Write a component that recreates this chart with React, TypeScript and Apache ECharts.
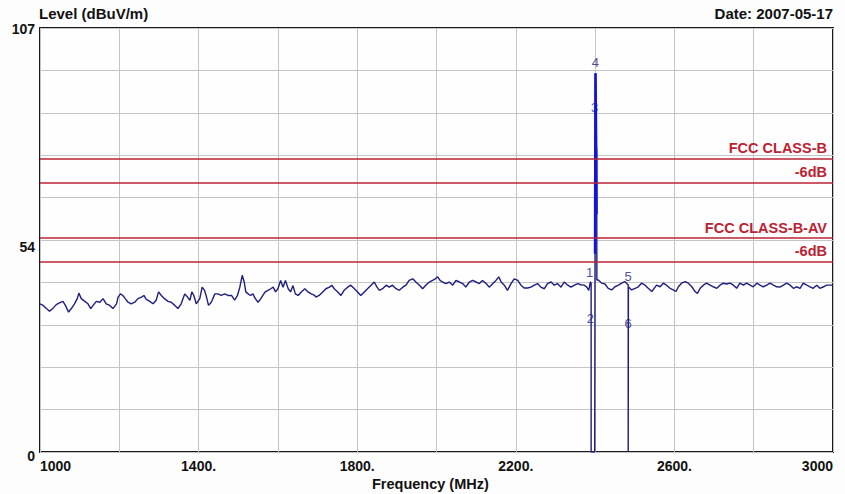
import React, { useEffect, useRef } from "react";
import * as echarts from "echarts";

// Spectrum trace (frequency MHz, level dBuV/m)
const lowBand: number[][] = [
  [1000, 37.4], [1008, 37.0], [1016, 36.2], [1024, 35.5], [1033, 36.3], [1041, 37.2], [1050, 37.7], [1058, 38.0],
  [1064, 37.0], [1072, 35.3], [1079, 36.2], [1087, 37.4], [1094, 38.7], [1098, 40.1], [1104, 38.7], [1113, 38.0],
  [1121, 37.4], [1128, 36.2], [1134, 37.0], [1142, 38.0], [1151, 37.8], [1159, 38.7], [1167, 37.4], [1176, 37.0],
  [1184, 36.2], [1193, 37.4], [1197, 39.1], [1203, 39.9], [1209, 39.5], [1215, 38.7], [1222, 37.8], [1230, 37.4],
  [1239, 37.8], [1247, 38.7], [1256, 39.1], [1262, 39.5], [1268, 38.5], [1277, 38.0], [1285, 37.4], [1293, 38.3],
  [1299, 40.4], [1306, 39.5], [1314, 38.7], [1323, 38.0], [1331, 37.8], [1340, 37.0], [1348, 36.2], [1356, 37.4],
  [1365, 39.9], [1372, 39.1], [1378, 38.3], [1383, 40.4], [1388, 39.5], [1394, 37.4], [1403, 38.7], [1409, 41.6],
  [1415, 40.8], [1420, 39.1], [1425, 37.0], [1432, 37.8], [1441, 39.9], [1449, 39.9], [1457, 39.5], [1466, 39.9],
  [1474, 39.5], [1483, 39.5], [1491, 38.3], [1498, 39.5], [1504, 41.6], [1510, 44.6], [1515, 42.9], [1519, 40.4],
  [1525, 39.9], [1531, 39.5], [1537, 39.9], [1543, 38.7], [1550, 37.8], [1557, 38.7], [1562, 39.5], [1568, 40.4],
  [1575, 40.8], [1582, 41.2], [1588, 41.6], [1594, 40.4], [1600, 41.2], [1607, 43.3], [1613, 41.6], [1619, 43.3],
  [1626, 41.2], [1632, 40.4], [1638, 42.0], [1644, 39.9], [1651, 39.5], [1659, 40.4], [1668, 41.2], [1676, 40.4],
  [1684, 39.9], [1693, 39.5], [1696, 39.1], [1704, 39.5], [1713, 40.4], [1721, 41.2], [1730, 41.6], [1736, 42.1],
  [1742, 41.2], [1751, 40.4], [1759, 39.5], [1767, 40.8], [1776, 41.6], [1784, 42.1], [1793, 41.2], [1801, 40.4],
  [1809, 39.5], [1818, 40.4], [1826, 41.2], [1835, 42.1], [1843, 42.9], [1850, 41.6], [1856, 40.8], [1864, 41.2],
  [1873, 42.1], [1881, 41.6], [1889, 42.1], [1898, 41.2], [1906, 40.8], [1915, 41.6], [1923, 42.1], [1931, 43.3],
  [1940, 43.7], [1948, 42.9], [1957, 42.1], [1965, 41.2], [1973, 42.1], [1982, 42.9], [1990, 43.3], [1997, 43.7],
  [2003, 44.2], [2009, 43.3], [2015, 42.9], [2024, 42.5], [2032, 42.9], [2041, 42.1], [2049, 43.3], [2058, 42.9],
  [2066, 42.5], [2074, 41.6], [2083, 42.9], [2091, 43.3], [2100, 42.9], [2108, 42.5], [2116, 43.3], [2125, 42.5],
  [2133, 41.6], [2142, 42.5], [2150, 43.3], [2157, 44.2], [2163, 42.9], [2171, 42.1], [2179, 40.8], [2188, 42.5],
  [2196, 43.7], [2205, 43.3], [2213, 42.1], [2221, 41.4], [2230, 41.4], [2238, 41.6], [2247, 42.1], [2255, 42.5],
  [2263, 41.6], [2272, 41.2], [2280, 42.5], [2289, 42.9], [2297, 42.1], [2305, 42.5], [2314, 41.6], [2322, 42.9],
  [2331, 42.1], [2339, 41.6], [2348, 42.1], [2356, 42.5], [2364, 42.2], [2373, 42.1], [2379, 41.6], [2384, 40.8],
  [2388, 42.9],
];
const carrier: number[][] = [
  [2390, 42.6], [2390, 0], [2399, 0], [2400, 60], [2401, 95.6], [2402.5, 78], [2404, 76], [2404.5, 43.4],
];
const highBand: number[][] = [
  [2408, 43.4], [2417, 42.6], [2425, 42.4], [2433, 41.3], [2442, 40.9], [2450, 41.7], [2459, 42.1], [2467, 42.6],
  [2475, 43.0], [2481, 42.4], [2483.5, 42.2], [2483.5, 0], [2484, 0], [2484, 41.7], [2492, 40.9], [2501, 41.3],
  [2509, 41.7], [2517, 42.6], [2526, 42.1], [2534, 41.3], [2543, 40.5], [2549, 41.3], [2555, 42.1], [2564, 41.7],
  [2572, 42.6], [2580, 42.1], [2589, 41.3], [2597, 40.9], [2604, 40.5], [2610, 41.7], [2618, 42.6], [2627, 43.0],
  [2635, 42.6], [2644, 41.7], [2652, 40.5], [2658, 40.0], [2665, 41.3], [2673, 42.1], [2681, 42.6], [2690, 42.1],
  [2698, 41.7], [2707, 41.3], [2715, 42.1], [2723, 42.6], [2732, 42.4], [2740, 42.6], [2749, 42.1], [2757, 41.3],
  [2765, 42.6], [2774, 42.1], [2782, 42.6], [2791, 42.1], [2799, 41.7], [2808, 42.6], [2816, 42.1], [2824, 41.7],
  [2833, 42.1], [2841, 42.6], [2850, 42.1], [2858, 41.7], [2866, 41.6], [2875, 42.1], [2883, 42.6], [2892, 42.1],
  [2900, 41.3], [2908, 41.7], [2917, 41.3], [2925, 42.6], [2934, 42.1], [2942, 41.7], [2950, 41.3], [2959, 42.1],
  [2967, 41.3], [2976, 41.7], [2984, 42.1], [2992, 42.1], [3000, 42.1],
];
const peakHighlight: number[][] = [[2400, 50], [2401, 95.6], [2402.5, 78], [2403.5, 60]];

// Markers
const markerNames = ["1", "2", "3", "4", "5", "6"];
const markerFreq = [2386, 2388, 2398.5, 2400.5, 2483.5, 2483.5];
const markerLevel = [43.1, 31.5, 84.8, 96.1, 42.1, 30.3];

// Limit lines
const limitValues = [74, 68, 54, 48];
const limitLabels = ["FCC CLASS-B", "-6dB", "FCC CLASS-B-AV", "-6dB"];

// Axis labels
const xLabelValues = [1000, 1400, 1800, 2200, 2600, 3000];
const yLabelValues = [0, 53.5, 107];
const yLabelTexts = ["{z|0}", "{m|54}", "{t|107}"];

const FONT = "'Liberation Sans', Arial, sans-serif";
const RED = "#bb2233";
const NAVY = "#1e1e7e";

export default function App() {
  const ref = useRef<HTMLDivElement>(null);
  useEffect(() => {
    if (!ref.current) return;
    const chart = echarts.init(ref.current, undefined, { renderer: "svg" });
    const trace = [...lowBand, ...carrier, ...highBand];
    const yRich = { fontFamily: FONT, fontWeight: "bold", fontSize: 14, color: "#111" };
    chart.setOption({
      animation: false,
      backgroundColor: "#fcfdfc",
      title: [
        { text: "Level (dBuV/m)", left: 34, top: 1, textStyle: { fontFamily: FONT, fontWeight: "bold", fontSize: 15, color: "#111" } },
        { text: "Date: 2007-05-17", right: 7, top: 1, textStyle: { fontFamily: FONT, fontWeight: "bold", fontSize: 15, color: "#111" } },
        { text: "Frequency (MHz)", left: 367, top: 471, textStyle: { fontFamily: FONT, fontWeight: "bold", fontSize: 14.5, color: "#111" } },
      ],
      grid: { left: 40, right: 12, top: 28, bottom: 42, show: true, borderColor: "#1a1a1a", borderWidth: 2, backgroundColor: "#fdfefd" },
      xAxis: {
        type: "value", min: 1000, max: 3000, interval: 200,
        axisLine: { show: false }, axisTick: { show: false },
        splitLine: { show: true, lineStyle: { color: "#c4c4c4", width: 1 } },
        axisLabel: {
          margin: 7, fontFamily: FONT, fontWeight: "bold", fontSize: 14, color: "#111",
          alignMinLabel: "left", alignMaxLabel: "right",
          formatter: (v: number) => {
            if (!xLabelValues.includes(v)) return "";
            return v === 1000 || v === 3000 ? String(v) : v + ".";
          },
        },
      },
      yAxis: {
        type: "value", min: 0, max: 107, interval: 10.7,
        axisLine: { show: false }, axisTick: { show: false },
        splitLine: { show: true, lineStyle: { color: "#c4c4c4", width: 1 } },
        axisLabel: {
          margin: 5, fontFamily: FONT, fontWeight: "bold", fontSize: 14, color: "#111",
          rich: {
            z: { ...yRich, padding: [7, 0, 0, 0] },
            m: { ...yRich, padding: [14, 0, 0, 0] },
            t: { ...yRich, padding: [1, 0, 0, 0] },
          },
          formatter: (v: number) => {
            const i = yLabelValues.findIndex((y) => Math.abs(y - v) < 0.01);
            return i >= 0 ? yLabelTexts[i] : "";
          },
        },
      },
      series: [
        {
          type: "line", data: trace, showSymbol: false, symbol: "none", silent: true,
          lineStyle: { color: NAVY, width: 1.4 },
          markLine: {
            silent: true, symbol: "none",
            lineStyle: { color: RED, width: 1.5, type: "solid" },
            data: limitValues.map((v, i) => ({
              yAxis: v,
              label: {
                show: true, position: "insideEndTop", formatter: limitLabels[i], distance: [6, 3],
                color: RED, fontFamily: FONT, fontWeight: "bold", fontSize: 14.5,
              },
            })),
          },
        },
        {
          type: "line", data: peakHighlight, showSymbol: false, symbol: "none", silent: true,
          lineStyle: { color: "#1414d8", width: 2.6 },
        },
        {
          type: "scatter", symbolSize: 0, silent: true,
          data: markerFreq.map((f, i) => ({ value: [f, markerLevel[i]], name: markerNames[i] })),
          label: {
            show: true, position: "top", distance: 2, formatter: (p: any) => p.name,
            color: "#20207a", fontFamily: FONT, fontSize: 13,
          },
        },
      ],
    });
    return () => chart.dispose();
  }, []);
  return <div ref={ref} style={{ position: "fixed", left: 0, top: 0, width: 845, height: 494 }} />;
}
